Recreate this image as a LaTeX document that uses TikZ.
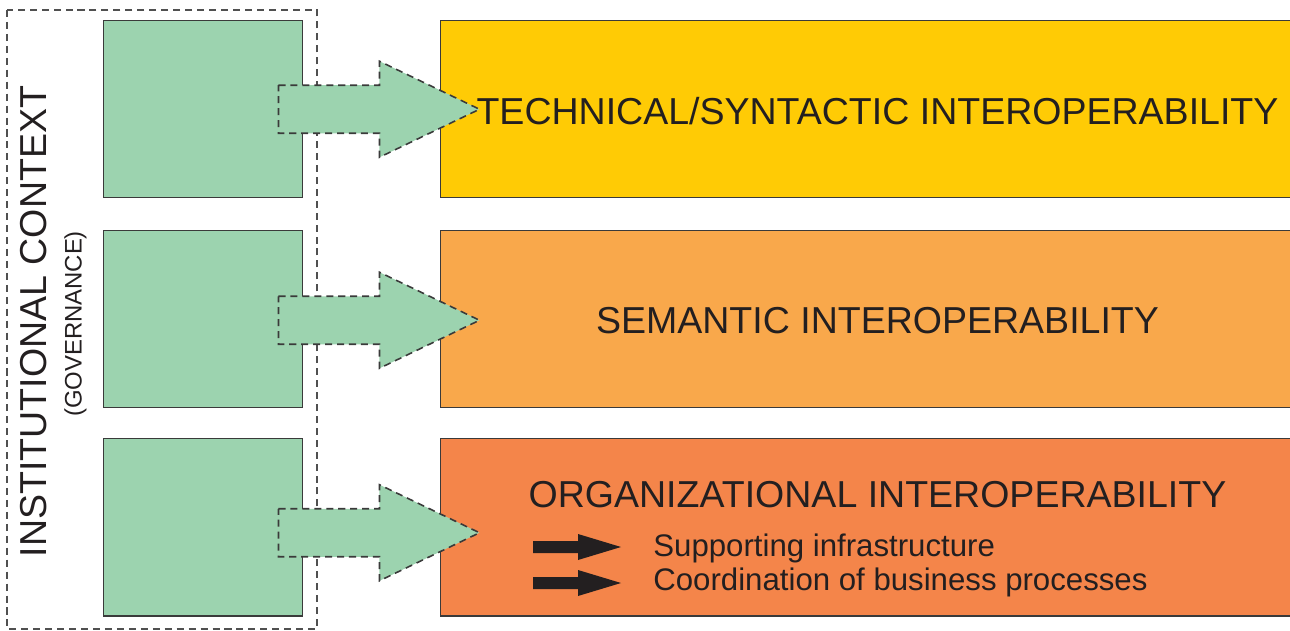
\documentclass[tikz,border=0pt]{standalone}
\usepackage{fontspec}
\setmainfont{Liberation Sans}
\usepackage{tikz}
\usetikzlibrary{calc}
\definecolor{leafgreen}{RGB}{156,211,175}
\definecolor{techyellow}{RGB}{255,203,5}
\definecolor{semorange}{RGB}{249,168,75}
\definecolor{orgorange}{RGB}{244,133,74}
\definecolor{edgegrey}{RGB}{58,58,58}
\definecolor{dashgrey}{RGB}{80,80,80}
\definecolor{inkblack}{RGB}{35,31,32}

\begin{document}
\begin{tikzpicture}[font=\fontsize{21.35}{25}\selectfont,text=inkblack]
\tikzstyle{layer}=[draw=edgegrey,line width=0.85pt,minimum width=17.5cm,minimum height=3.54cm,inner sep=0,anchor=north west]
\tikzstyle{green box}=[draw=edgegrey,fill=leafgreen,line width=0.85pt,minimum width=3.98cm,minimum height=3.54cm,inner sep=0,anchor=north west]
\tikzstyle{big arrow}=[draw=edgegrey,fill=leafgreen,dash pattern=on 4pt off 2.8pt,line width=0.9pt]
\tikzstyle{small arrow}=[fill=inkblack]
\tikzstyle{item}=[anchor=base west,inner sep=0,font=\fontsize{17.75}{20}\selectfont]

\useasboundingbox (0,0) rectangle (25.8,12.6);
\clip (0,0) rectangle (25.8,12.6);

% the three layers
\node[layer,fill=techyellow](tech) at (8.8,12.2) {};
\node[layer,fill=semorange](sem) at (8.8,8.0) {};
\node[layer,fill=orgorange](org) at (8.8,3.84) {};

% institutional frame
\draw[dashgrey,line width=0.85pt,dash pattern=on 4pt off 2.8pt] (0.14,12.4) rectangle (6.34,0.02);

% green blocks
\node[green box](g1) at (2.06,12.2) {};
\node[green box](g2) at (2.06,8.0) {};
\node[green box](g3) at (2.06,3.84) {};

% arrows from the blocks into the layers
\coordinate (a1) at ($(g1.east)+(-0.5,0)$);
\coordinate (a2) at ($(g2.east)+(-0.5,-0.02)$);
\coordinate (a3) at ($(g3.east)+(-0.5,-0.11)$);
\draw[big arrow] (a1) ++(0,0.48) -- ++(2.02,0) -- ++(0,0.48) -- ++(2,-0.96) -- ++(-2,-0.96) -- ++(0,0.48) -- ++(-2.02,0) -- cycle;
\draw[big arrow] (a2) ++(0,0.48) -- ++(2.02,0) -- ++(0,0.48) -- ++(2,-0.96) -- ++(-2,-0.96) -- ++(0,0.48) -- ++(-2.02,0) -- cycle;
\draw[big arrow] (a3) ++(0,0.48) -- ++(2.02,0) -- ++(0,0.48) -- ++(2,-0.96) -- ++(-2,-0.96) -- ++(0,0.48) -- ++(-2.02,0) -- cycle;

% layer titles
\node[anchor=base,inner sep=0](techtxt) at (17.55,10.12) {TECHNICAL/SYNTACTIC INTEROPERABILITY};
\node[anchor=base,inner sep=0](semtxt) at (17.55,5.94) {SEMANTIC INTEROPERABILITY};
\node[anchor=base,inner sep=0](orgtxt) at (17.55,2.46) {ORGANIZATIONAL INTEROPERABILITY};

% items of the organizational layer
\coordinate (b1) at (10.66,1.66);
\coordinate (b2) at (10.66,0.94);
\fill[small arrow] (b1) ++(0,0.12) -- ++(0.9,0) -- ++(0,0.14) -- ++(0.86,-0.26) -- ++(-0.86,-0.26) -- ++(0,0.14) -- ++(-0.9,0) -- cycle;
\fill[small arrow] (b2) ++(0,0.12) -- ++(0.9,0) -- ++(0,0.14) -- ++(0.86,-0.26) -- ++(-0.86,-0.26) -- ++(0,0.14) -- ++(-0.9,0) -- cycle;
\node[item](infra) at (13.06,1.48) {Supporting infrastructure};
\node[item](coord) at (13.06,0.8) {Coordination of business processes};

% side label
\node[rotate=90,anchor=base,inner sep=0](ctxtxt) at (0.92,6.17) {INSTITUTIONAL CONTEXT};
\node[rotate=90,anchor=base,inner sep=0,font=\fontsize{13.6}{16}\selectfont](govtxt) at (1.63,6.12) {(GOVERNANCE)};

\end{tikzpicture}
\end{document}
